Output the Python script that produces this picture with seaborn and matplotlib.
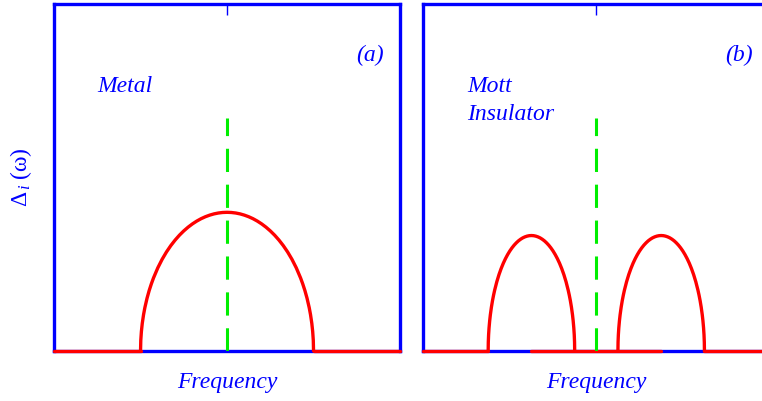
import matplotlib
matplotlib.use("Agg")
import matplotlib.pyplot as plt
import seaborn as sns
import pandas as pd

# Frequency axis spans [-2, 2] in units of the half bandwidth D
freq_range = [-2.0, 2.0]

# Half-band profile: distance from band centre (fraction of half width)
band_u = [0.0, 0.05, 0.1, 0.15, 0.2, 0.25, 0.3, 0.35, 0.4, 0.45, 0.5, 0.55, 0.6, 0.65,
          0.7, 0.75, 0.8, 0.85, 0.875, 0.9, 0.925, 0.95, 0.965, 0.98, 0.99, 0.997, 1.0]

# (a) Metal: single band of half width 1 centred on the Fermi level
metal_center = 0.0
metal_halfwidth = 1.0
metal_dos = [0.400, 0.3995, 0.398, 0.3955, 0.3919, 0.3873, 0.3816, 0.3747, 0.3666,
             0.3572, 0.3464, 0.3341, 0.320, 0.3040, 0.2857, 0.2646, 0.240, 0.2107,
             0.1936, 0.1744, 0.1520, 0.1249, 0.1049, 0.0796, 0.0564, 0.0310, 0.0]
metal_zero_segments = [(-2.0, -1.0), (1.0, 2.0)]

# (b) Mott insulator: lower and upper Hubbard bands
hubbard_centers = [-0.75, 0.75]
hubbard_halfwidth = 0.5
hubbard_dos = [0.333, 0.3326, 0.3313, 0.3292, 0.3263, 0.3224, 0.3177, 0.3119, 0.3052,
               0.2974, 0.2884, 0.2781, 0.2664, 0.2531, 0.2378, 0.2203, 0.1998, 0.1754,
               0.1612, 0.1452, 0.1265, 0.1040, 0.0873, 0.0663, 0.0470, 0.0258, 0.0]
mott_zero_segments = [(-2.0, -1.25), (-0.75, 0.75), (1.25, 2.0)]

# Fermi level marker
fermi_level = 0.0
fermi_marker_height = 0.671

panel_titles = [["Metal"], ["Mott", "Insulator"]]
panel_tags = ["(a)", "(b)"]
x_label = "Frequency"
y_label = r"$\Delta_{\,i}\;(\mathrm{\omega})$"

BLUE = "#0000ff"
RED = "#ff0000"
GREEN = "#00ee00"

sns.set_style("white")
plt.rcParams["font.family"] = ["Liberation Serif", "DejaVu Serif"]
plt.rcParams["mathtext.fontset"] = "custom"
plt.rcParams["mathtext.rm"] = "Liberation Serif"
plt.rcParams["mathtext.it"] = "Liberation Serif:italic"

fig = plt.figure(figsize=(7.62, 4.01), dpi=100)
ax_a = fig.add_axes([0.0709, 0.1247, 0.4541, 0.8646])
ax_b = fig.add_axes([0.5555, 0.1247, 0.4541, 0.8646])


def red_line(ax, x, y):
    df = pd.DataFrame({"freq": x, "dos": y})
    sns.lineplot(data=df, x="freq", y="dos", ax=ax, color=RED, linewidth=2.4,
                 sort=False, estimator=None, zorder=4, clip_on=False)


def band(ax, center, halfwidth, dos):
    # mirror the half profile about the band centre
    x = [center - halfwidth * u for u in band_u[::-1]] + [center + halfwidth * u for u in band_u[1:]]
    y = list(dos[::-1]) + list(dos[1:])
    red_line(ax, x, y)


def style_panel(ax, title_lines, tag, show_ylabel):
    ax.set_xlim(*freq_range)
    ax.set_ylim(0, 1)
    for sp in ax.spines.values():
        sp.set_color(BLUE)
        sp.set_linewidth(2.4)
        sp.set_visible(True)
    ax.set_xticks([fermi_level])
    ax.set_yticks([])
    ax.tick_params(axis="x", which="both", top=True, bottom=False,
                   labeltop=False, labelbottom=False, direction="in",
                   length=7.7, width=1.0, color=BLUE)
    ax.set_xlabel(x_label, color=BLUE, fontsize=17, style="italic")
    ax.xaxis.set_label_coords(0.5, -0.107)
    ax.xaxis.label.set_va("baseline")
    if show_ylabel:
        ax.set_ylabel(y_label, color=BLUE, fontsize=17)
        ax.yaxis.set_label_coords(-0.057, 0.5)
    else:
        ax.set_ylabel("")
    # Fermi level
    ax.plot([fermi_level, fermi_level], [0.0, fermi_marker_height], color=GREEN,
            linewidth=2.2, linestyle=(0, (7.6, 4.15)), zorder=5,
            solid_capstyle="butt", dash_capstyle="butt")
    for i, line in enumerate(title_lines):
        ax.text(0.126, 0.747 - 0.0815 * i, line, transform=ax.transAxes, color=BLUE,
                fontsize=17, style="italic", ha="left", va="baseline")
    ax.text(0.913, 0.853, tag, transform=ax.transAxes, color=BLUE,
            fontsize=17, style="italic", ha="center", va="center")


# Panel (a)
for x0, x1 in metal_zero_segments:
    red_line(ax_a, [x0, x1], [0.0, 0.0])
band(ax_a, metal_center, metal_halfwidth, metal_dos)
style_panel(ax_a, panel_titles[0], panel_tags[0], True)

# Panel (b)
for x0, x1 in mott_zero_segments:
    red_line(ax_b, [x0, x1], [0.0, 0.0])
for c in hubbard_centers:
    band(ax_b, c, hubbard_halfwidth, hubbard_dos)
style_panel(ax_b, panel_titles[1], panel_tags[1], False)

fig.savefig("out.png", dpi=100)
